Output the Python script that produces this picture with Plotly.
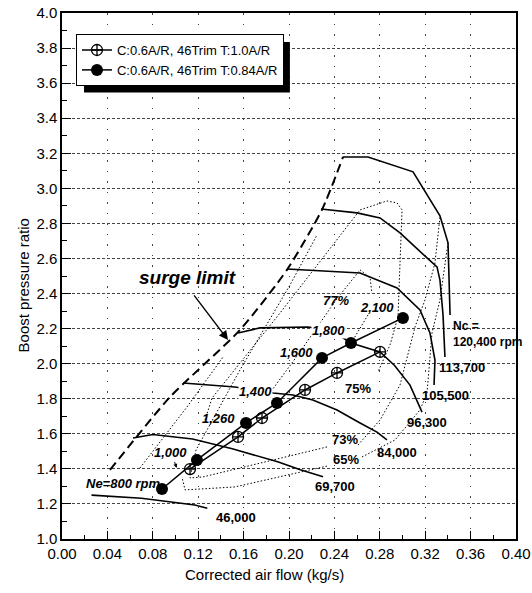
import plotly.graph_objects as go

# ---- measured test points (corrected flow kg/s, pressure ratio) ----
flow_t10 = [0.1128, 0.1551, 0.1762, 0.2141, 0.2423, 0.2802]
pr_t10 = [1.399, 1.582, 1.690, 1.850, 1.947, 2.067]

flow_t084 = [0.0881, 0.1189, 0.1621, 0.1894, 0.2291, 0.2546, 0.3004]
pr_t084 = [1.285, 1.451, 1.662, 1.776, 2.033, 2.118, 2.261]
engine_speed_labels = ["Ne=800 rpm", "1,000", "1,260", "1,400", "1,600", "1,800", "2,100"]

# ---- compressor speed lines ----
n46000_x = [0.026, 0.070, 0.117, 0.128]
n46000_y = [1.250, 1.232, 1.194, 1.175]
n69700_x = [0.0626, 0.080, 0.115, 0.150, 0.190, 0.210, 0.230]
n69700_y = [1.576, 1.596, 1.570, 1.515, 1.440, 1.395, 1.355]
n84000_x = [0.1066, 0.1524, 0.186, 0.2035, 0.221, 0.2423, 0.2626, 0.2775, 0.2863]
n84000_y = [1.890, 1.867, 1.833, 1.821, 1.793, 1.736, 1.662, 1.610, 1.565]
n96300_x = [0.1551, 0.1744, 0.2167, 0.2370, 0.2546, 0.2802, 0.2930, 0.3066, 0.3172]
n96300_y = [2.175, 2.204, 2.209, 2.190, 2.118, 2.067, 1.990, 1.878, 1.724]
n105500_x = [0.1982, 0.2626, 0.2952, 0.3154, 0.3242, 0.3286, 0.3278]
n105500_y = [2.540, 2.517, 2.432, 2.306, 2.175, 2.021, 1.878]
n113700_x = [0.2282, 0.2599, 0.2802, 0.2978, 0.3216, 0.3304, 0.3330, 0.3357, 0.3374]
n113700_y = [2.882, 2.860, 2.831, 2.746, 2.603, 2.552, 2.477, 2.278, 2.038]
n120400_x = [0.2476, 0.2696, 0.3093, 0.3330, 0.3401, 0.3419]
n120400_y = [3.179, 3.179, 3.094, 2.843, 2.689, 2.278]
speed_labels = ["46,000", "69,700", "84,000", "96,300", "105,500", "113,700"]

# ---- surge line ----
surge_x = [0.0423, 0.0952, 0.1568, 0.1982, 0.2290, 0.2476]
surge_y = [1.394, 1.810, 2.192, 2.535, 2.877, 3.179]

# ---- efficiency contours (open polylines) ----
eff77_x = [0.1806, 0.2097, 0.2414, 0.2626, 0.2714, 0.2731]
eff77_y = [1.810, 2.067, 2.363, 2.535, 2.489, 2.403]
eff77b_x = [0.2696, 0.2564]
eff77b_y = [2.278, 2.135]
eff75_x = [0.1260, 0.1322, 0.1921, 0.2361, 0.2626, 0.2863, 0.2952, 0.2996, 0.2978, 0.2960, 0.2890, 0.2784]
eff75_y = [1.679, 1.804, 2.289, 2.660, 2.877, 2.928, 2.917, 2.877, 2.574, 2.266, 2.107, 1.953]
eff73_x = [0.2335, 0.1242, 0.1128, 0.1181, 0.1568, 0.2009, 0.2247]
eff73_y = [1.525, 1.354, 1.348, 1.508, 1.964, 2.449, 2.734]
eff73b_x = [0.2608, 0.2802, 0.2978, 0.3110, 0.3198, 0.3286, 0.3330]
eff73b_y = [1.536, 1.679, 1.878, 2.209, 2.363, 2.574, 2.837]
eff65_x = [0.2335, 0.1524, 0.1084, 0.1057]
eff65_y = [1.416, 1.297, 1.280, 1.354]
eff65b_x = [0.2643, 0.2934, 0.3154, 0.3216, 0.3260, 0.3330, 0.3401]
eff65b_y = [1.468, 1.565, 1.736, 1.833, 2.175, 2.363, 2.689]
eff_outer_x = [0.0687, 0.1101, 0.1419]
eff_outer_y = [1.405, 1.753, 2.038]
eff_labels = ["77%", "75%", "73%", "65%"]

FONT = "Liberation Sans, Arial, sans-serif"
fig = go.Figure()

eff_lines = [(eff77_x, eff77_y), (eff77b_x, eff77b_y), (eff75_x, eff75_y),
             (eff73_x, eff73_y), (eff73b_x, eff73b_y), (eff65_x, eff65_y),
             (eff65b_x, eff65b_y), (eff_outer_x, eff_outer_y)]
for xs, ys in eff_lines:
    fig.add_trace(go.Scatter(x=xs, y=ys, mode="lines", showlegend=False, hoverinfo="skip",
                             line=dict(color="black", width=1, dash="1.5px,2px")))

speed_lines = [(n46000_x, n46000_y), (n69700_x, n69700_y), (n84000_x, n84000_y),
               (n96300_x, n96300_y), (n105500_x, n105500_y), (n113700_x, n113700_y),
               (n120400_x, n120400_y)]
for xs, ys in speed_lines:
    fig.add_trace(go.Scatter(x=xs, y=ys, mode="lines", showlegend=False, hoverinfo="skip",
                             line=dict(color="black", width=1.6)))

fig.add_trace(go.Scatter(x=surge_x, y=surge_y, mode="lines", showlegend=False, hoverinfo="skip",
                         line=dict(color="black", width=2, dash="9px,5px", shape="spline", smoothing=0.6)))

fig.add_trace(go.Scatter(x=flow_t10, y=pr_t10, mode="lines+markers",
                         name="C:0.6A/R, 46Trim T:1.0A/R",
                         line=dict(color="black", width=1.5),
                         marker=dict(symbol="circle-cross-open", size=11, color="black",
                                     line=dict(width=1.3, color="black"))))
fig.add_trace(go.Scatter(x=flow_t084, y=pr_t084, mode="lines+markers",
                         name="C:0.6A/R, 46Trim T:0.84A/R",
                         line=dict(color="black", width=1.5),
                         marker=dict(symbol="circle", size=12, color="black")))

bi = dict(family=FONT, size=13, color="black", weight="bold", style="italic")
bold = dict(family=FONT, size=13, color="black", weight="bold")

# engine speed labels
ne_pos = [(0.0546, 1.314), (0.0960, 1.491), (0.1383, 1.690), (0.1709, 1.839),
          (0.2070, 2.061), (0.2352, 2.187), (0.2775, 2.323)]
for txt, (x, y) in zip(engine_speed_labels, ne_pos):
    fig.add_annotation(x=x, y=y, text=txt, showarrow=False, font=bi,
                       bgcolor="white" if txt in ("1,400", "1,800") else None, borderpad=0)
# pointer under the 1,000 label
fig.add_annotation(x=0.1010, y=1.405, ax=0.0987, ay=1.448, axref="x", ayref="y",
                   text="", showarrow=True, arrowhead=2, arrowsize=0.8, arrowwidth=1,
                   arrowcolor="black")

# compressor speed labels
spd_pos = [(0.1533, 1.125), (0.2405, 1.302), (0.2952, 1.496), (0.3216, 1.662),
           (0.3383, 1.816), (0.3524, 1.981)]
for txt, (x, y) in zip(speed_labels, spd_pos):
    fig.add_annotation(x=x, y=y, text=txt, showarrow=False, font=bold)
fig.add_annotation(x=0.3427, y=2.168, text="Nc =<br>120,400 rpm", showarrow=False, align="left",
                   xanchor="left", yanchor="middle",
                   font=dict(family=FONT, size=12, color="black", weight="bold"))

# efficiency labels
eff_pos = [(0.2414, 2.363), (0.2608, 1.861), (0.2493, 1.570), (0.2502, 1.451)]
for txt, (x, y) in zip(eff_labels, eff_pos):
    f = bi if txt == "77%" else bold
    fig.add_annotation(x=x, y=y, text=txt, showarrow=False, font=f)

# surge limit callout
fig.add_annotation(x=0.1110, y=2.489, text="surge limit", showarrow=False,
                   font=dict(family=FONT, size=19, color="black", weight="bold", style="italic"))
fig.add_annotation(x=0.1463, y=2.135, ax=0.1154, ay=2.398, axref="x", ayref="y",
                   text="", showarrow=True, arrowhead=2, arrowsize=1.3, arrowwidth=1.4,
                   arrowcolor="black")

# axis titles
fig.add_annotation(x=0.445, y=-0.0684, xref="paper", yref="paper", text="Corrected air flow (kg/s)",
                   showarrow=False, font=dict(family=FONT, size=15, color="black"), yanchor="middle")
fig.add_annotation(x=-0.108, y=0.483, xref="paper", yref="paper", text="Boost pressure ratio",
                   showarrow=False, textangle=-90, font=dict(family=FONT, size=15, color="black"))

# legend drop shadow
fig.add_shape(type="rect", xref="paper", yref="paper", x0=0.0485, x1=0.502, y0=0.849, y1=0.945,
              fillcolor="black", line=dict(width=0), layer="above")

fig.update_layout(
    width=532, height=593,
    margin=dict(l=62, r=16, t=13, b=54, autoexpand=False),
    paper_bgcolor="white", plot_bgcolor="white",
    font=dict(family=FONT, size=15, color="black"),
    legend=dict(x=0.0308, y=0.96, xanchor="left", yanchor="top", bgcolor="white",
                bordercolor="black", borderwidth=1, font=dict(family=FONT, size=13),
                itemwidth=30, tracegroupgap=0),
)
fig.update_xaxes(range=[0, 0.4], tick0=0, dtick=0.04, tickformat=".2f", automargin=False,
                 ticks="inside", ticklen=8, tickcolor="black",
                 minor=dict(dtick=0.02, ticks="inside", ticklen=4, tickcolor="black", showgrid=False),
                 showline=True, linecolor="black", linewidth=1.5, mirror=True,
                 showgrid=True, gridcolor="#444", gridwidth=1, griddash="1.5px,9px", zeroline=False)
fig.update_yaxes(range=[1, 4], tick0=1, dtick=0.2, tickformat=".1f", automargin=False,
                 ticks="inside", ticklen=9, tickcolor="black",
                 minor=dict(dtick=0.1, ticks="inside", ticklen=5, tickcolor="black", showgrid=False),
                 showline=True, linecolor="black", linewidth=1.5, mirror=True,
                 showgrid=True, gridcolor="#444", gridwidth=1, griddash="3px,2px", zeroline=False)

fig.write_html("out.html")
